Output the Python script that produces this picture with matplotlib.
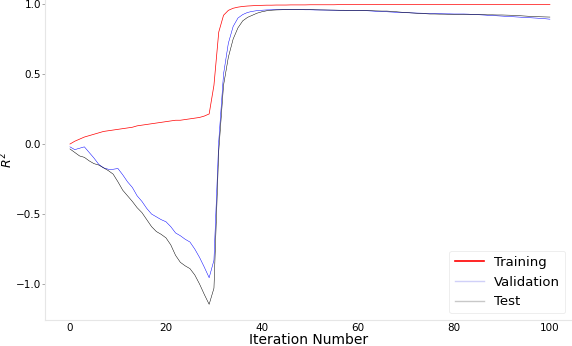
import matplotlib
matplotlib.use("Agg")
import matplotlib.pyplot as plt

iterations = list(range(101))

training = [
    0.00, 0.02, 0.035, 0.05, 0.06, 0.07, 0.08, 0.09, 0.095, 0.10,
    0.105, 0.11, 0.115, 0.12, 0.13, 0.135, 0.14, 0.145, 0.15, 0.155,
    0.16, 0.165, 0.17, 0.17, 0.175, 0.18, 0.185, 0.19, 0.20, 0.215,
    0.42, 0.80, 0.92, 0.955, 0.97, 0.978, 0.983, 0.986, 0.988, 0.99,
    0.991, 0.992, 0.992, 0.993, 0.993, 0.993, 0.994, 0.994, 0.994, 0.994,
    0.995, 0.995, 0.995, 0.995, 0.995, 0.995, 0.996, 0.996, 0.996, 0.996,
    0.996, 0.996, 0.996, 0.996, 0.997, 0.997, 0.997, 0.997, 0.997, 0.997,
    0.997, 0.997, 0.997, 0.997, 0.997, 0.997, 0.997, 0.997, 0.997, 0.997,
    0.997, 0.997, 0.997, 0.997, 0.997, 0.997, 0.997, 0.997, 0.997, 0.997,
    0.997, 0.997, 0.997, 0.997, 0.997, 0.997, 0.997, 0.997, 0.997, 0.997,
    0.997,
]

validation = [
    -0.02, -0.04, -0.03, -0.02, -0.06, -0.10, -0.145, -0.17, -0.18, -0.18,
    -0.175, -0.22, -0.27, -0.31, -0.37, -0.41, -0.46, -0.50, -0.52, -0.54,
    -0.555, -0.59, -0.635, -0.655, -0.68, -0.70, -0.75, -0.81, -0.88, -0.955,
    -0.83, 0.02, 0.50, 0.72, 0.84, 0.90, 0.925, 0.94, 0.948, 0.953,
    0.956, 0.958, 0.959, 0.96, 0.96, 0.96, 0.96, 0.96, 0.96, 0.959,
    0.959, 0.958, 0.958, 0.957, 0.957, 0.956, 0.956, 0.955, 0.955, 0.955,
    0.955, 0.953, 0.952, 0.950, 0.948, 0.946, 0.945, 0.943, 0.941, 0.940,
    0.938, 0.937, 0.936, 0.935, 0.934, 0.933, 0.932, 0.931, 0.930, 0.930,
    0.929, 0.929, 0.929, 0.928, 0.926, 0.924, 0.922, 0.920, 0.918, 0.916,
    0.914, 0.912, 0.910, 0.908, 0.906, 0.904, 0.902, 0.900, 0.898, 0.895,
    0.892,
]

test = [
    -0.035, -0.06, -0.085, -0.095, -0.12, -0.14, -0.15, -0.17, -0.19, -0.215,
    -0.27, -0.33, -0.37, -0.41, -0.455, -0.49, -0.54, -0.59, -0.625, -0.645,
    -0.67, -0.72, -0.795, -0.845, -0.87, -0.89, -0.935, -1.00, -1.075, -1.145,
    -1.03, -0.05, 0.42, 0.62, 0.75, 0.83, 0.88, 0.905, 0.92, 0.935,
    0.945, 0.952, 0.956, 0.958, 0.959, 0.96, 0.96, 0.96, 0.96, 0.96,
    0.96, 0.959, 0.958, 0.958, 0.957, 0.957, 0.956, 0.956, 0.955, 0.955,
    0.955, 0.954, 0.953, 0.952, 0.951, 0.950, 0.950, 0.948, 0.945, 0.942,
    0.940, 0.937, 0.935, 0.933, 0.931, 0.929, 0.929, 0.928, 0.928, 0.927,
    0.927, 0.926, 0.926, 0.925, 0.925, 0.924, 0.924, 0.923, 0.923, 0.922,
    0.922, 0.921, 0.920, 0.918, 0.916, 0.914, 0.912, 0.910, 0.909, 0.908,
    0.907,
]

fig = plt.figure(figsize=(5.72, 3.46), dpi=100)
ax = fig.add_axes([45 / 572, 26 / 346, 1 - 45 / 572, 1 - 26 / 346])

ax.plot(iterations, training, color="red", lw=0.5, label="Training")
ax.plot(iterations, validation, color="blue", lw=0.35, label="Validation")
ax.plot(iterations, test, color="black", lw=0.35, label="Test")

ax.set_xlim(-5.2, 104.6)
ax.set_ylim(-1.257, 1.029)
ax.set_xticks([0, 20, 40, 60, 80, 100])
ax.set_yticks([-1.0, -0.5, 0.0, 0.5, 1.0])

for s in ["top", "right"]:
    ax.spines[s].set_visible(False)
for s in ["left", "bottom"]:
    ax.spines[s].set_color("#e6e6e6")
    ax.spines[s].set_linewidth(0.8)

ax.tick_params(axis="x", length=0, labelsize=7.5, pad=2)
ax.tick_params(axis="y", length=2, width=0.6, color="#999999", labelsize=7.5, pad=1)

ax.set_xlabel("Iteration Number", fontsize=10, labelpad=0)
ax.set_ylabel("$R^2$", fontsize=9, labelpad=0)

leg = ax.legend(loc="lower right", fontsize=9.5, frameon=True,
                borderaxespad=0.5, handlelength=2.2)
leg.get_frame().set_edgecolor("#e6e6e6")
leg.get_frame().set_linewidth(0.6)
# legend handles: solid red for training, faint for the other two
handles = leg.get_lines()
handles[0].set_linewidth(1.2)
handles[1].set_color("#d0d0f8")
handles[1].set_linewidth(1.0)
handles[2].set_color("#c8c8c8")
handles[2].set_linewidth(1.0)

fig.savefig("out.png", dpi=100)
